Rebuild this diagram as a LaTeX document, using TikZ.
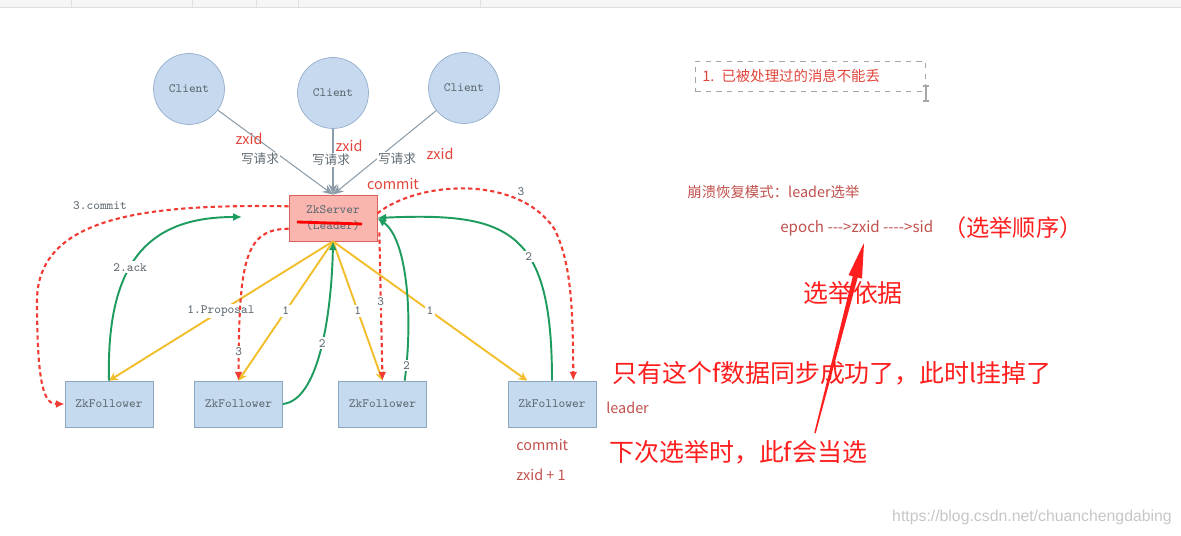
\documentclass[tikz,border=0pt]{standalone}
\usepackage{fontspec}
\newfontfamily\cjk{Noto Sans CJK SC}
\newfontfamily\wmfont{Liberation Sans}
\usepackage{tikz}
\usetikzlibrary{calc}
\usetikzlibrary{arrows.meta}
\definecolor{clientfill}{HTML}{C6D9EE}
\definecolor{clientedge}{HTML}{94AECB}
\definecolor{folfill}{HTML}{C5D9EF}
\definecolor{foledge}{HTML}{8DA6C0}
\definecolor{srvfill}{HTML}{F9B5AE}
\definecolor{srvedge}{HTML}{D8625C}
\definecolor{lblgray}{HTML}{5F6B73}
\definecolor{reqline}{HTML}{8C9CA8}
\definecolor{propyel}{HTML}{F2BE2C}
\definecolor{ackgreen}{HTML}{1E9B5E}
\definecolor{cmtred}{HTML}{F03A32}
\definecolor{notered}{HTML}{E0443A}
\definecolor{mutered}{HTML}{C0504D}
\definecolor{bigred}{HTML}{FF1E1E}
\newcommand{\monolbl}{\ttfamily\fontsize{7.2}{9}\selectfont}
\tikzstyle{client}=[circle, draw=clientedge, fill=clientfill, minimum size=1.42cm, inner sep=0pt, font=\monolbl, text=lblgray]
\tikzstyle{server}=[rectangle, draw=srvedge, fill=srvfill, minimum width=1.76cm, minimum height=0.92cm, align=center, font=\monolbl, text=lblgray]
\tikzstyle{follower}=[rectangle, draw=foledge, fill=folfill, minimum width=1.76cm, minimum height=0.92cm, font=\monolbl, text=lblgray]
\tikzstyle{num}=[fill=white, inner sep=1pt, font=\monolbl, text=lblgray]
\tikzstyle{req}=[draw=reqline, line width=0.6pt, -{Stealth[length=6pt,width=5pt]}]
\tikzstyle{prop}=[draw=propyel, line width=1.1pt, -{Stealth[length=5pt,width=5pt]}]
\tikzstyle{ack}=[draw=ackgreen, line width=1.1pt, -{Latex[length=5pt,width=4.5pt]}]
\tikzstyle{cmtline}=[draw=cmtred, line width=1.2pt, dash pattern=on 2.4pt off 1.8pt, -{Latex[length=5pt,width=4.5pt]}]
\tikzstyle{reqlbl}=[fill=white, inner sep=0.5pt, font=\cjk\fontsize{7.2}{8}\selectfont, text=lblgray]
\tikzstyle{note}=[inner sep=0pt, font=\cjk\fontsize{8.2}{9}\selectfont, text=notered]
\tikzstyle{bignote}=[inner sep=0pt, font=\cjk\fontsize{14.2}{16}\selectfont, text=bigred]

\begin{document}
\begin{tikzpicture}[x=0.02cm, y=-0.02cm]
    \useasboundingbox (0,0) rectangle (1181,536);

    %top bar
    \fill[gray!7] (0,0) rectangle (1181,7);
    \draw[gray!25] (0,7) -- (1181,7);
    \foreach \x in {71,192,256,298,480} {\draw[gray!25] (\x,0) -- (\x,7);}

    %clients
    \foreach \n/\x/\y in {c1/189/89,c2/333/93,c3/464/88} {
    \node [client] (\n) at (\x,\y) {Client};
    }

    %server
    \node [server] (srv) at (333,218) {ZkServer\\(Leader)};
    \draw [red, line width=1.6pt] ($(srv.center)+(-36,4)$) -- ($(srv.center)+(29,6)$);

    %followers
    \foreach \n/\x in {f1/109,f2/238.5,f3/382.5,f4/552} {
    \node [follower] (\n) at (\x,404) {ZkFollower};
    }

    %write requests
    \foreach \n in {c1,c2,c3} {\draw [req] (\n) -- (srv.north);}
    \node [reqlbl] (w1) at (260,159) {写请求};
    \node [reqlbl] (w2) at (331,160) {写请求};
    \node [reqlbl] (w3) at (397,159) {写请求};
    \node [note] (z1) at (249,139) {zxid};
    \node [note] (z2) at (349,146) {zxid};
    \node [note] (z3) at (440,154) {zxid};
    \node [note] (cm) at (393,184) {commit};

    %proposal
    \draw [prop] (srv.south) -- node [num] (p1) {1.Proposal} (f1.north);
    \draw [prop] (srv.south) -- node [num] (p2) {1} (f2.north);
    \draw [prop] (srv.south) -- node [num] (p3) {1} (f3.north);
    \draw [prop] (srv.south) -- node [num] (p4) {1} ($(f4.north west)!.22!(f4.north east)$);

    %ack
    \coordinate (ackend) at (242,217);
    \draw [ack] (f1.north) .. controls (106,260) and (150,217) .. node [num, pos=.42] (a1) {2.ack} (ackend);
    \draw [ack] (f2.east) .. controls (322,400) and (332,300) .. node [num, pos=.5] (a2) {2} (srv.south);
    \draw [ack] ($(f3.north west)!.75!(f3.north east)$) .. controls (413,320) and (408,240) .. node [num, pos=.08] (a3) {2} (srv.east);
    \draw [ack] (f4.north) .. controls (552,230) and (510,212) .. node [num, pos=.4] (a4) {2} (srv.east);

    %commit
    \draw [cmtline] ($(srv.north west)!.25!(srv.south west)$) .. controls (150,204) and (38,215) .. (37,300) .. controls (37,390) and (45,404) .. (f1.west);
    \node [num, fill=none] (k1) at (100,206) {3.commit};
    \draw [cmtline] ($(srv.north west)!.73!(srv.south west)$) .. controls (245,229) and (239,260) .. node [num, pos=.915] (k2) {3} (f2.north);
    \draw [cmtline] ($(srv.south east)+(2,-9)$) -- node [num, pos=.47] (k3) {3} (f3.north);
    \draw [cmtline] ($(srv.north east)!.4!(srv.south east)$) .. controls (420,180) and (520,175) .. (555,230) .. controls (570,262) and (573,300) .. ($(f4.north west)!.74!(f4.north east)$);
    \node [num] (k4) at (521,192) {3};

    %notes
    \node [note, draw=gray!70, dashed, anchor=north west, minimum width=4.6cm, minimum height=0.6cm, text width=4.32cm, inner xsep=0.14cm] (lost) at (695,61) {1. 已被处理过的消息不能丢};
    \draw [gray!70, line width=0.7pt] (926,86) -- (926,101) (923,86) -- (929,86) (923,101) -- (929,101);
    \node [note, text=mutered, anchor=west] (mode) at (687,192) {崩溃恢复模式：leader选举};
    \node [note, text=mutered, anchor=west, font=\cjk\fontsize{8.6}{9}\selectfont] (order) at (780,228) {epoch -\kern0pt-\kern0pt->zxid -\kern0pt-\kern0pt-\kern0pt->sid};
    \node [bignote, anchor=west, font=\cjk\fontsize{13.2}{15}\selectfont] (seq) at (943,228) {（选举顺序）};
    \node [bignote] (basis) at (853,293) {选举依据};
    \node [bignote, anchor=west] (only) at (612,373) {只有这个f数据同步成功了，此时l挂掉了};
    \node [note, text=mutered, anchor=west] (lead) at (606,408) {leader};
    \node [bignote, anchor=west] (next) at (609,452) {下次选举时，此f会当选};
    \node [note, text=mutered, anchor=west] (fcm) at (516,445) {commit};
    \node [note, text=mutered, anchor=west] (fzx) at (516,475) {zxid + 1};

    %pen arrow
    \fill [bigred] (814.3,432.8) -- (852.8,276.3) -- (848.5,275.1) -- (864,243) -- (862.0,278.6) -- (857.7,277.5) -- (815.7,433.2) -- cycle;

    \node [font=\wmfont\fontsize{9}{10}\selectfont, text=gray!45, inner sep=0pt] (wm) at (1032,517) {https://blog.csdn.net/chuanchengdabing};

\end{tikzpicture}
\end{document}
